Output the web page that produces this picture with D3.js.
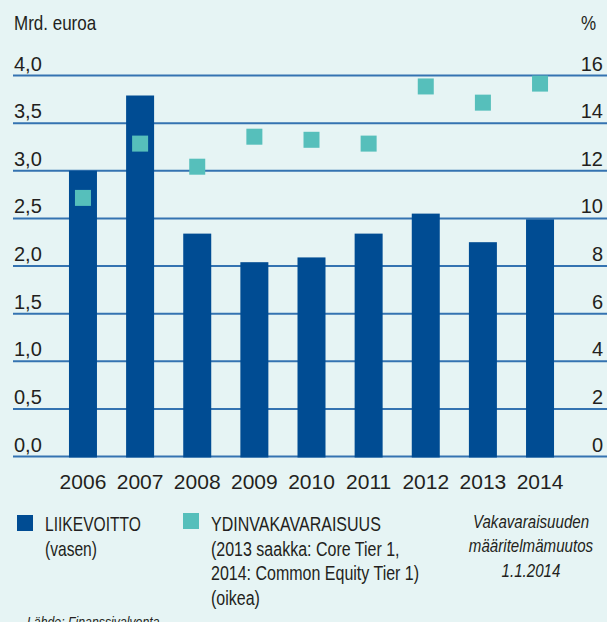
<!DOCTYPE html>
<html>
<head>
<meta charset="utf-8">
<script src="https://cdn.jsdelivr.net/npm/d3@7"></script>
<style>
  html, body { margin: 0; padding: 0; background: #e6f4f4; }
  svg { display: block; }
  text { font-family: "Liberation Sans Narrow", "Arial Narrow", "Liberation Sans", sans-serif; fill: #231f20; }
</style>
</head>
<body>
<div id="chart"></div>
<script>
const years = ['2006', '2007', '2008', '2009', '2010', '2011', '2012', '2013', '2014'];
const liikevoitto = [3.0, 3.79, 2.34, 2.04, 2.09, 2.34, 2.55, 2.25, 2.49];
const ydinvakavaraisuus = [10.86, 13.14, 12.17, 13.43, 13.3, 13.14, 15.54, 14.86, 15.66];
const leftTicks = [0, 0.5, 1, 1.5, 2, 2.5, 3, 3.5, 4];
const rightTicks = [0, 2, 4, 6, 8, 10, 12, 14, 16];
const legendBars = ['LIIKEVOITTO', '(vasen)'];
const legendSquares = ['YDINVAKAVARAISUUS', '(2013 saakka: Core Tier 1,', '2014: Common Equity Tier 1)', '(oikea)'];
const noteLines = ['Vakavaraisuuden', 'määritelmämuutos', '1.1.2014'];

const W = 607, H = 622;
const barColor = '#004c93';
const sqColor = '#56bfbb';
const gridColor = '#3473b1';

const svg = d3.select('#chart').append('svg')
  .attr('width', W).attr('height', H);

svg.append('rect').attr('width', W).attr('height', H).attr('fill', '#e6f4f4');

const x = d3.scaleBand()
  .domain(years)
  .range([54.4, 568.6])
  .paddingInner(0.51)
  .paddingOuter(0.255);

const yL = d3.scaleLinear().domain([0, 4]).range([456.5, 75.5]);
const yR = d3.scaleLinear().domain([0, 16]).range([456.5, 75.5]);

const fmt = d => d3.format('.1f')(d).replace('.', ',');

// condensed text block: lines placed at (x, y + i*lh), squeezed horizontally
function textBlock(lines, tx, ty, lh, opts) {
  const g = svg.append('g')
    .attr('transform', `translate(${tx},${ty}) scale(${opts.sx},1)`);
  g.append('text')
    .attr('font-size', opts.size)
    .attr('font-style', opts.italic ? 'italic' : null)
    .attr('text-anchor', opts.anchor || 'start')
    .selectAll('tspan')
    .data(lines)
    .join('tspan')
    .attr('x', 0)
    .attr('y', (d, i) => i * lh)
    .text(d => d);
}

// Grid lines
svg.append('g')
  .selectAll('line')
  .data(leftTicks)
  .join('line')
  .attr('x1', 13).attr('x2', W)
  .attr('y1', d => yL(d)).attr('y2', d => yL(d))
  .attr('stroke', gridColor)
  .attr('stroke-width', 2);

// Bars
svg.append('g')
  .selectAll('rect')
  .data(years)
  .join('rect')
  .attr('x', d => x(d))
  .attr('width', x.bandwidth())
  .attr('y', (d, i) => yL(liikevoitto[i]))
  .attr('height', (d, i) => yL(0) - yL(liikevoitto[i]) + 1)
  .attr('fill', barColor);

// Squares
const sq = 16;
svg.append('g')
  .selectAll('rect')
  .data(years)
  .join('rect')
  .attr('x', d => x(d) + x.bandwidth() / 2 - sq / 2)
  .attr('y', (d, i) => yR(ydinvakavaraisuus[i]) - sq / 2)
  .attr('width', sq).attr('height', sq)
  .attr('fill', sqColor);

// Left tick labels
svg.append('g')
  .selectAll('text')
  .data(leftTicks)
  .join('text')
  .attr('x', 14)
  .attr('y', d => yL(d) - 5)
  .attr('font-size', '20px')
  .text(fmt);

// Right tick labels
svg.append('g')
  .selectAll('text')
  .data(rightTicks)
  .join('text')
  .attr('x', 603)
  .attr('y', d => yR(d) - 5)
  .attr('text-anchor', 'end')
  .attr('font-size', '20px')
  .text(d => d);

// Axis titles
textBlock(['Mrd. euroa'], 14, 30, 0, { size: '20px', sx: 0.85 });
textBlock(['%'], 596, 30, 0, { size: '20px', sx: 0.85, anchor: 'end' });

// Year labels
svg.append('g')
  .selectAll('text')
  .data(years)
  .join('text')
  .attr('x', d => x(d) + x.bandwidth() / 2)
  .attr('y', 489)
  .attr('text-anchor', 'middle')
  .attr('font-size', '21px')
  .text(d => d);

// Legend
svg.append('rect').attr('x', 17).attr('y', 515).attr('width', 16).attr('height', 16).attr('fill', barColor);
textBlock(legendBars, 45, 531, 24.6, { size: '20px', sx: 0.78 });

svg.append('rect').attr('x', 183).attr('y', 513).attr('width', 16).attr('height', 16).attr('fill', sqColor);
textBlock(legendSquares, 211, 531, 24.6, { size: '20px', sx: 0.8 });

// Note
textBlock(noteLines, 531, 528, 24.5, { size: '18px', sx: 0.84, italic: true, anchor: 'middle' });

// Source
textBlock(['Lähde: Finanssivalvonta'], 27, 627, 0, { size: '15px', sx: 0.82, italic: true });
</script>
</body>
</html>
